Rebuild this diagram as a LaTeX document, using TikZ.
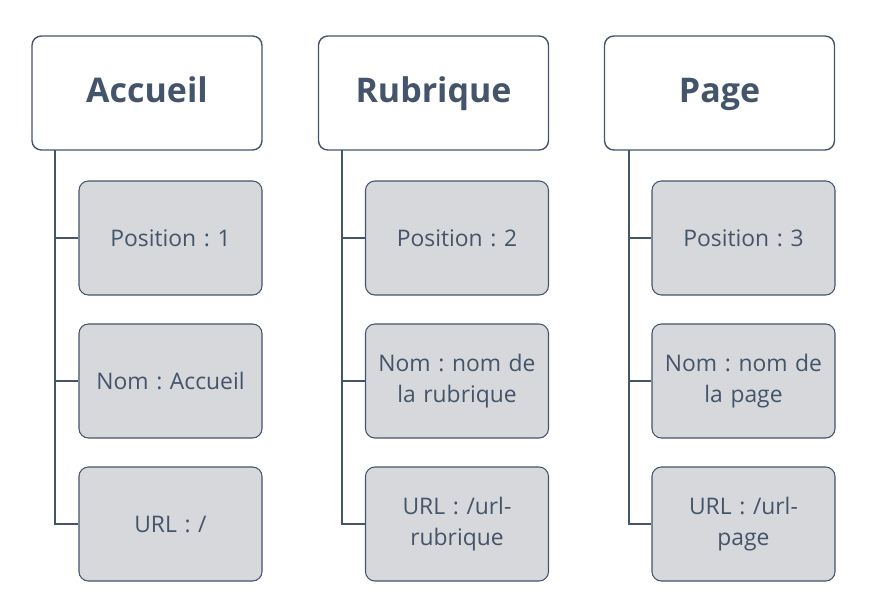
\documentclass[tikz,border=0pt]{standalone}
\usepackage{fontspec}
\setmainfont{Open Sans}
\frenchspacing
\definecolor{ardoise}{HTML}{44546A}
\definecolor{grisclair}{HTML}{D6D8DB}
\tikzset{
	titre/.style={draw=ardoise, line width=1.2pt, fill=white, rounded corners=8pt, minimum width=230*0.03cm, minimum height=114*0.03cm, text=ardoise, text height=1.7em, text depth=0em, font=\fontsize{29}{32}\selectfont\bfseries},
	champ/.style={draw=ardoise, line width=0.9pt, fill=grisclair, rounded corners=8pt, minimum width=183*0.03cm, minimum height=114*0.03cm, inner xsep=1pt, text width=178*0.03cm, align=center, text=ardoise, font=\fontsize{19.5}{27}\selectfont},
	lien/.style={draw=ardoise, line width=0.9pt}
}
\begin{document}
\begin{tikzpicture}[x=0.03cm, y=-0.03cm]
	\useasboundingbox (0,0) rectangle (893,609);
	% titres
	\node[titre] (acc) at (147,93) {Accueil};
	\node[titre] (rub) at (433.5,93) {Rubrique};
	\node[titre] (pag) at (719.5,93) {Page};
	% champs
	\node[champ] (acc1) at (170.5,238) {Position : 1};
	\node[champ] (acc2) at (170.5,381) {Nom : Accueil};
	\node[champ] (acc3) at (170.5,524) {URL : /};
	\node[champ] (rub1) at (457,238) {Position : 2};
	\node[champ] (rub2) at (457,381) {Nom : nom de\\la rubrique};
	\node[champ] (rub3) at (457,524) {URL : /url-\\rubrique};
	\node[champ] (pag1) at (743.5,238) {Position : 3};
	\node[champ] (pag2) at (743.5,381) {Nom : nom de\\la page};
	\node[champ] (pag3) at (743.5,524) {URL : /url-\\page};
	% liens
	\coordinate (accl) at (55,150);
	\coordinate (rubl) at (342,150);
	\coordinate (pagl) at (629,150);
	\draw[lien] (accl) |- (acc3.west);
	\draw[lien] (acc1.west -| accl) -- (acc1.west);
	\draw[lien] (acc2.west -| accl) -- (acc2.west);
	\draw[lien] (rubl) |- (rub3.west);
	\draw[lien] (rub1.west -| rubl) -- (rub1.west);
	\draw[lien] (rub2.west -| rubl) -- (rub2.west);
	\draw[lien] (pagl) |- (pag3.west);
	\draw[lien] (pag1.west -| pagl) -- (pag1.west);
	\draw[lien] (pag2.west -| pagl) -- (pag2.west);
\end{tikzpicture}
\end{document}
